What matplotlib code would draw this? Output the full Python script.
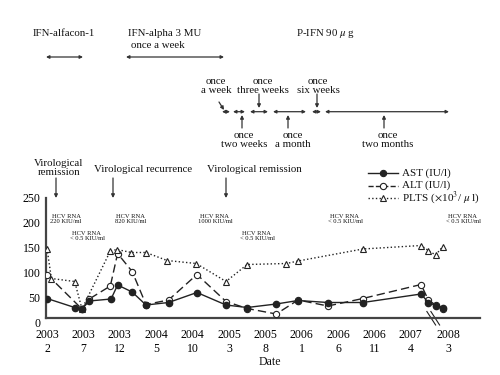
import numpy as np
import matplotlib
matplotlib.use('Agg')
import matplotlib.pyplot as plt
from matplotlib.lines import Line2D

plt.rcParams['font.family'] = ['Liberation Serif', 'DejaVu Serif']
plt.rcParams['mathtext.fontset'] = 'stix'

# Data (x in months from 2003/2 along the axis; break after 2007/4)
tick_pos = [0, 5, 10, 15, 20, 25, 30, 35, 40, 45, 50, 55.2]
tick_labels = ['2003\n2', '2003\n7', '2003\n12', '2004\n5', '2004\n10', '2005\n3',
               '2005\n8', '2006\n1', '2006\n6', '2006\n11', '2007\n4', '2008\n3']

ast_x = [0, 3.8, 4.8, 5.8, 8.8, 9.7, 11.7, 13.6, 16.7, 20.6, 24.6, 27.5, 31.5,
         34.5, 38.6, 43.4, 51.4, 52.4, 53.4, 54.4]
ast_v = [48, 30, 27, 43, 47, 75, 61, 35, 40, 60, 35, 30, 37, 44, 40, 40, 57, 40, 34, 30]

alt_x = [0, 4.8, 5.8, 8.7, 9.7, 11.7, 13.6, 16.7, 20.6, 24.6, 27.5, 31.5, 34.5,
         38.6, 43.4, 51.4, 52.4, 53.4, 54.4]
alt_v = [96, 27, 47, 73, 138, 102, 36, 45, 96, 42, 28, 17, 45, 33, 48, 76, 45, 35, 28]

plts_x = [0, 0.6, 3.8, 4.8, 8.7, 9.6, 11.6, 13.6, 16.5, 20.5, 24.6, 27.5, 32.9,
          34.5, 43.4, 51.4, 52.4, 53.4, 54.4]
plts_v = [148, 88, 82, 27, 143, 146, 140, 140, 124, 118, 82, 116, 118, 123, 147,
          154, 144, 135, 152]

hcv_labels = ['HCV RNA\n220 KIU/ml', 'HCV RNA\n< 0.5 KIU/ml', 'HCV RNA\n820 KIU/ml',
              'HCV RNA\n1000 KIU/ml', 'HCV RNA\n< 0.5 KIU/ml', 'HCV RNA\n< 0.5 KIU/ml',
              'HCV RNA\n< 0.5 KIU/ml']

LC = '#222222'

fig = plt.figure(figsize=(5, 3.75), dpi=100)
ax = fig.add_axes([46 / 500, (375 - 322.5) / 375, (480 - 46) / 500, 125 / 375])

ax.plot(ast_x, ast_v, '-', color=LC, lw=1.0, marker='o', ms=4.5, mfc=LC, mec=LC, zorder=4)
ax.plot(alt_x, alt_v, '--', color=LC, lw=1.0, dashes=(6, 3), marker='o', ms=4.5,
        mfc='white', mec=LC, mew=0.8, zorder=3)
ax.plot(plts_x, plts_v, ':', color=LC, lw=1.0, marker='^', ms=4.5,
        mfc='white', mec=LC, mew=0.8, zorder=3)

ax.set_xlim(-0.14, 59.5)
ax.set_ylim(0, 250)
ax.set_yticks([0, 50, 100, 150, 200, 250])
ax.set_xticks(tick_pos)
ax.set_xticklabels(tick_labels)
for t in ax.get_xticklabels():
    t.set_linespacing(0.72)
ax.tick_params(axis='both', length=0, labelsize=8.5)
ax.tick_params(axis='x', pad=8.5)
ax.tick_params(axis='y', pad=4)
for s in ['top', 'right']:
    ax.spines[s].set_visible(False)
ax.spines['bottom'].set_position(('data', 10))
ax.spines['left'].set_bounds(10, 250)
for s in ['bottom', 'left']:
    ax.spines[s].set_color('#444444')
    ax.spines[s].set_linewidth(1.6)
ax.patch.set_visible(False)

# axis break marks
for dx in [0, 0.55]:
    ax.plot([52.2 + dx, 53.4 + dx], [22, -5], color=LC, lw=0.8, clip_on=False)

# overlay in pixel coordinates for annotations
ov = fig.add_axes([0, 0, 1, 1], zorder=5)
ov.set_xlim(0, 500)
ov.set_ylim(375, 0)
ov.axis('off')
ov.patch.set_visible(False)

FS = 7.8


def txt(x, y, s, size=FS, ls=0.95, ha='center'):
    ov.text(x, y, s, ha=ha, va='center', fontsize=size, linespacing=ls, color='#111111')


def darrow(x1, x2, y):
    ov.annotate('', xy=(x2, y), xytext=(x1, y),
                arrowprops=dict(arrowstyle='<|-|>', color='#333333', lw=0.9,
                                mutation_scale=4.5, shrinkA=0, shrinkB=0))


def parrow(x1, y1, x2, y2):
    ov.annotate('', xy=(x2, y2), xytext=(x1, y1),
                arrowprops=dict(arrowstyle='-|>', color='#333333', lw=0.9,
                                mutation_scale=5, shrinkA=0, shrinkB=0))


txt(64, 33, 'IFN-alfacon-1')
txt(165, 33, 'IFN-alpha 3 MU')
txt(158, 46, 'once a week')
txt(326, 33, 'P-IFN 90 $\\mu$ g')
darrow(46, 83, 57)
darrow(126, 224, 57)

for a, b in [(222, 230), (233, 245), (250, 268), (273, 306), (312, 321), (325, 449)]:
    darrow(a, b, 111.7)

txt(216, 86, 'once\na week')
txt(263, 86, 'once\nthree weeks')
txt(318, 86, 'once\nsix weeks')
txt(244, 140, 'once\ntwo weeks')
txt(293, 140, 'once\na month')
txt(388, 140, 'once\ntwo months')
parrow(219, 102, 224, 110)
parrow(259, 94, 259, 108)
parrow(317, 94, 317, 108)
parrow(242, 128, 242, 115)
parrow(288, 128, 288, 115)
parrow(384, 128, 384, 115)

txt(59, 168, 'Virological\nremission')
txt(143, 169, 'Virological recurrence')
txt(254, 169, 'Virological remission')
for x in [56, 113, 226]:
    parrow(x, 178, x, 198)

hcv_pos = [(66, 219), (87, 236), (131, 219), (215, 219), (257, 236), (345, 219), (463, 219)]
for (x, y), s in zip(hcv_pos, hcv_labels):
    txt(x, y, s, size=4.7, ls=1.15)

txt(270, 362, 'Date', size=8.5)

# legend
leg = [('AST (IU/l)', '-', LC), ('ALT (IU/l)', '--', 'white'),
       ('PLTS ($\\times$10$^3$/ $\\mu$ l)', ':', 'white')]
for (lab, lsty, fc), y, mk in zip(leg, [173, 185.5, 198], ['o', 'o', '^']):
    ov.add_line(Line2D([368, 398], [y, y], ls=lsty, color=LC, lw=1.0))
    ov.add_line(Line2D([383], [y], marker=mk, ms=4.5, mfc=fc, mec=LC, mew=0.8))
    txt(402, y, lab, size=8.0, ha='left')

fig.savefig('out.png', dpi=100)
